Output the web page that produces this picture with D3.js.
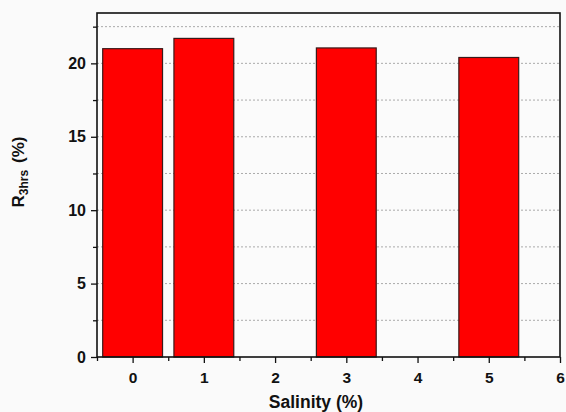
<!DOCTYPE html>
<html>
<head>
<meta charset="utf-8">
<script src="https://cdn.jsdelivr.net/npm/d3@7"></script>
<style>
  html, body { margin: 0; padding: 0; background: #fafafa; }
  svg { display: block; font-family: "Liberation Sans", Arial, sans-serif; }
</style>
</head>
<body>
<svg id="chart" width="566" height="412"></svg>
<script>
// Salinity levels (%) and measured R_3hrs (%)
const salinity = [0, 1, 3, 5];
const r3hrs = [21.0, 21.7, 21.05, 20.4];
const xTickValues = [0, 1, 2, 3, 4, 5, 6];
const yTickValues = [0, 5, 10, 15, 20];
const gridValues = [2.5, 5, 7.5, 10, 12.5, 15, 17.5, 20, 22.5];

const svg = d3.select("#chart");
const margin = { left: 97, right: 6, top: 13, bottom: 55 };
const W = 566, H = 412;
const x0 = margin.left, x1 = W - margin.right;
const y0 = H - margin.bottom, y1 = margin.top;

const x = d3.scaleLinear().domain([-0.5, 6]).range([x0, x1]);
const y = d3.scaleLinear().domain([0, 23.43]).range([y0, y1]);

// plot area background
svg.append("rect").attr("x", x0).attr("y", y1).attr("width", x1 - x0).attr("height", y0 - y1)
  .attr("fill", "#fbfbfb");

// horizontal dotted grid
svg.append("g").selectAll("line").data(gridValues).join("line")
  .attr("x1", x0).attr("x2", x1)
  .attr("y1", d => y(d)).attr("y2", d => y(d))
  .attr("stroke", "#aaa").attr("stroke-width", 1)
  .attr("stroke-dasharray", "2,2");

// bars
const barW = 0.84;
svg.append("g").selectAll("rect").data(salinity).join("rect")
  .attr("x", d => x(d - barW / 2))
  .attr("width", d => x(barW) - x(0))
  .attr("y", (d, i) => y(r3hrs[i]))
  .attr("height", (d, i) => y(0) - y(r3hrs[i]))
  .attr("fill", "#ff0000")
  .attr("stroke", "#3a1a1a").attr("stroke-width", 1.2);

// x axis: major ticks with labels, minor ticks between
const xAxis = d3.axisBottom(x).tickValues(xTickValues).tickSize(6).tickPadding(9).tickFormat(d3.format("d"));
const gx = svg.append("g").attr("transform", `translate(0,${y0})`).call(xAxis);
gx.select(".domain").remove();
const xMinor = d3.axisBottom(x).tickValues([-0.5, 0.5, 1.5, 2.5, 3.5, 4.5, 5.5]).tickSize(4).tickFormat("");
const gxm = svg.append("g").attr("transform", `translate(0,${y0})`).call(xMinor);
gxm.select(".domain").remove();

// y axis
const yAxis = d3.axisLeft(y).tickValues(yTickValues).tickSize(6).tickPadding(5);
const gy = svg.append("g").attr("transform", `translate(${x0},0)`).call(yAxis);
gy.select(".domain").remove();
const yMinor = d3.axisLeft(y).tickValues([2.5, 7.5, 12.5, 17.5, 22.5]).tickSize(4).tickFormat("");
const gym = svg.append("g").attr("transform", `translate(${x0},0)`).call(yMinor);
gym.select(".domain").remove();

svg.selectAll(".tick line").attr("stroke", "#111").attr("stroke-width", 1.3);
svg.selectAll(".tick text")
  .attr("font-family", "'Liberation Sans', Arial, sans-serif")
  .attr("font-weight", "bold").attr("fill", "#111");
gx.selectAll(".tick text").attr("font-size", 15.5);
gy.selectAll(".tick text").attr("font-size", 16);

// frame
svg.append("rect").attr("x", x0).attr("y", y1).attr("width", x1 - x0).attr("height", y0 - y1)
  .attr("fill", "none").attr("stroke", "#111").attr("stroke-width", 1.6);

// axis titles
svg.append("text")
  .attr("x", 316).attr("y", 407.5)
  .attr("text-anchor", "middle")
  .attr("font-size", 17.5).attr("font-weight", "bold").attr("fill", "#111")
  .text("Salinity (%)");

const yl = svg.append("text")
  .attr("transform", "translate(24,172) rotate(-90)")
  .attr("text-anchor", "middle")
  .attr("font-size", 17).attr("font-weight", "bold").attr("fill", "#111");
yl.append("tspan").text("R");
yl.append("tspan").attr("font-size", 12).attr("dy", 4).text("3hrs");
yl.append("tspan").attr("dy", -4).attr("dx", 7).text("(%)");
</script>
</body>
</html>
